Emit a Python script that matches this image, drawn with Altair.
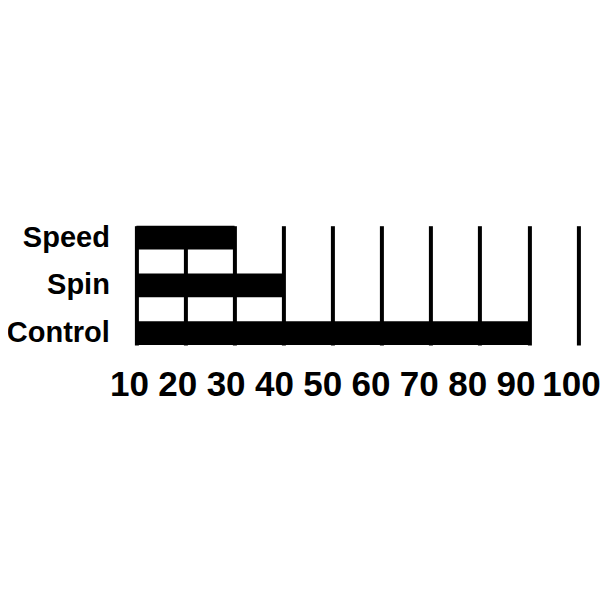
import altair as alt
import pandas as pd

categories = ["Speed", "Spin", "Control"]
values = [30, 40, 90]
tick_values = [10, 20, 30, 40, 50, 60, 70, 80, 90, 100]

df = pd.DataFrame({
    "category": categories,
    "value": values,
    "start": [tick_values[0]] * len(categories),
})

FONT = "Liberation Sans, Roboto, sans-serif"

chart = alt.Chart(df).mark_bar(color="black").encode(
    x=alt.X(
        "start:Q",
        scale=alt.Scale(domain=[tick_values[0], tick_values[-1]], nice=False, zero=False),
        axis=alt.Axis(
            values=tick_values, grid=True, gridColor="black", gridWidth=4, gridOpacity=1,
            domain=False, ticks=False, labelFont=FONT, labelFontWeight="bold",
            labelFontSize=35, labelColor="black", labelPadding=50,
            labelBaseline="alphabetic",
            labelOffset={"expr": "datum.value == 100 ? -7 : -7.4 - (datum.value - 10) * 0.076"},
            labelFlush=False, labelOverlap=False, labelBound=False, title=None, format="d",
        ),
    ),
    x2="value:Q",
    y=alt.Y(
        "category:N", sort=categories,
        scale=alt.Scale(paddingInner=0.5, paddingOuter=0),
        axis=alt.Axis(
            domain=False, ticks=False, grid=False, labelFont=FONT, labelFontWeight="bold",
            labelFontSize=29, labelColor="black", labelPadding=27, title=None,
        ),
    ),
).properties(
    width=441.6, height=119.3,
    padding={"left": 128.4, "top": 217.7, "right": 24, "bottom": 80},
    autosize="none",
).configure_view(stroke=None)

chart.save("out.html", embed_options={"renderer": "svg", "actions": False})
